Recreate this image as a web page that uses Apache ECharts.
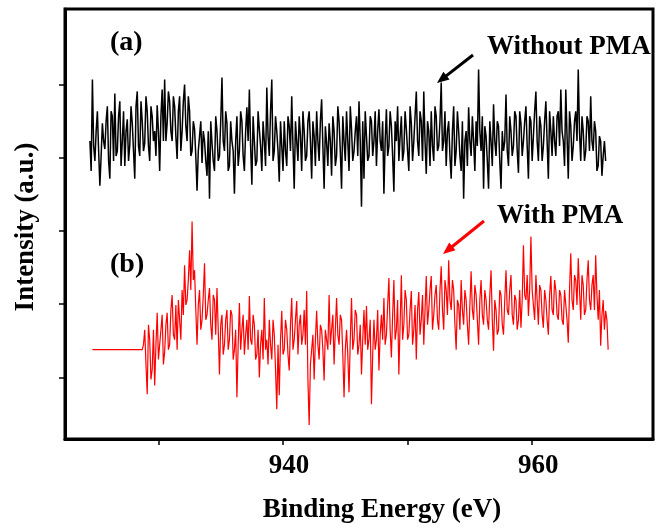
<!DOCTYPE html>
<html>
<head>
<meta charset="utf-8">
<script src="https://cdn.jsdelivr.net/npm/echarts@6/dist/echarts.min.js"></script>
<style>
html,body{margin:0;padding:0;background:#fff;}
#chart{width:655px;height:529px;}
</style>
</head>
<body>
<div id="chart"></div>
<script>
// Binding energy sampling (eV)
const energyStartA = 924.5;
const energyStartB = 924.7;
const energyStep = 0.1;

// (a) Without PMA - intensity (a.u.)
const intensityWithout = [
  300,270,362,295,280,310,330,290,255,285,318,300,292,320,335,280,262,330,325,280,
  348,285,290,325,340,275,300,330,275,310,322,280,296,335,318,290,262,335,350,295,
  285,340,320,290,298,345,330,295,280,335,325,300,310,285,336,310,270,325,352,300,
  362,300,318,350,340,310,300,345,335,305,282,330,345,290,310,340,357,315,300,345,
  330,285,290,320,312,285,250,290,305,320,278,310,300,280,265,310,242,320,298,280,
  270,325,310,280,285,320,364,300,290,330,318,270,275,320,300,290,247,300,325,275,
  290,330,320,285,270,310,334,300,352,295,256,325,300,275,280,330,312,295,270,320,
  300,275,354,305,285,330,362,280,290,325,310,290,259,320,295,270,320,290,275,325,
  315,290,345,295,252,320,300,280,325,305,270,330,310,280,285,320,330,300,262,320,
  305,275,330,300,280,320,342,295,252,315,298,275,318,300,265,325,310,275,285,335,
  320,290,252,325,300,280,330,300,270,335,312,280,290,310,325,285,340,300,234,320,
  262,330,305,280,285,325,320,285,300,330,275,310,332,300,290,320,247,300,332,285,
  295,330,315,285,249,320,300,335,280,305,325,280,290,330,312,290,270,335,318,280,
  300,325,350,300,285,330,320,280,350,300,267,320,310,275,330,295,280,335,325,290,
  295,320,359,290,300,330,275,310,320,285,262,310,335,275,290,330,310,285,270,320,
  242,300,310,275,334,300,285,325,300,270,320,295,372,310,290,325,252,315,305,280,
  252,320,300,275,337,300,285,320,315,280,252,310,290,300,347,290,275,325,310,285,
  295,330,325,290,268,330,318,285,300,320,335,295,262,325,320,280,305,330,350,300,
  280,325,315,280,295,320,340,300,262,330,310,285,325,300,285,325,330,295,352,310,
  300,275,352,305,262,330,315,280,295,320,330,300,372,310,280,325,310,280,290,325,
  320,290,345,300,290,320,310,270,275,305,300,265,285,300,280
];

// (b) With PMA - intensity (a.u.)
const intensityWith = [
  90,90,90,90,90,90,90,90,90,90,90,90,90,90,90,90,90,90,90,90,
  90,90,90,90,90,90,90,90,90,90,90,90,90,90,90,90,90,90,90,90,
  90,95,110,75,45,115,100,60,70,110,54,95,127,80,95,110,125,75,88,115,
  127,90,95,130,145,105,100,135,90,140,120,100,150,125,175,135,140,160,190,150,
  219,160,170,130,95,135,150,110,120,145,177,120,125,140,152,115,100,145,140,105,
  152,110,65,115,125,85,95,120,130,90,100,130,125,80,90,110,42,95,137,90,
  110,125,85,105,120,90,144,100,95,125,115,80,85,110,62,95,110,80,142,90,
  100,75,120,95,80,120,105,70,30,95,44,100,129,85,90,120,110,85,69,115,
  142,90,100,120,139,85,115,125,95,105,130,95,149,60,14,75,90,105,60,100,
  129,95,80,115,110,90,59,110,100,90,145,95,110,125,75,110,142,105,95,125,
  120,85,42,90,110,85,47,100,142,90,100,130,125,85,95,115,65,100,130,95,
  134,90,100,120,35,85,120,90,100,130,69,105,125,100,142,95,105,135,162,110,
  82,125,160,100,110,140,65,115,165,100,115,150,140,100,105,130,149,95,110,135,
  80,130,148,105,120,145,95,130,164,115,130,150,164,110,125,145,155,120,110,150,
  174,130,110,160,150,125,180,140,130,160,150,115,90,140,135,110,160,130,115,150,
  140,115,95,135,169,130,120,155,145,120,95,140,160,125,115,150,140,120,110,145,
  170,120,89,140,130,105,110,150,145,115,105,140,170,130,125,150,165,125,115,145,
  140,110,120,150,112,140,195,145,140,165,124,150,204,150,135,120,165,140,115,155,
  150,125,112,150,140,120,105,145,164,130,125,160,150,125,120,150,145,120,115,150,
  135,120,97,150,187,140,130,165,160,135,182,150,120,165,155,125,130,160,180,140,
  130,155,165,130,185,145,120,150,94,125,140,110,129,120,90
];

const xTickValues = [930, 940, 950, 960];
const xTickLabels = [940, 960];
const yTickValues = [62, 135.75, 209.5, 283.25, 357];

function toPairs(start, vals) {
  return vals.map((v, i) => [Math.round((start + i * energyStep) * 100) / 100, v]);
}

const FONT = '"Liberation Serif", "Times New Roman", serif';

function arrow(x1, y1, x2, y2, color) {
  const dx = x2 - x1, dy = y2 - y1;
  const len = Math.sqrt(dx * dx + dy * dy);
  const ux = dx / len, uy = dy / len;
  const L = 12, W = 5;
  const bx = x2 - ux * L, by = y2 - uy * L;
  const px = -uy, py = ux;
  return [
    { type: 'line', shape: { x1: x1, y1: y1, x2: bx + ux * 2, y2: by + uy * 2 },
      style: { stroke: color, lineWidth: 3 } },
    { type: 'polygon', shape: { points: [[x2, y2], [bx + px * W, by + py * W], [bx - px * W, by - py * W]] },
      style: { fill: color } }
  ];
}

const chart = echarts.init(document.getElementById('chart'), null, { renderer: 'canvas' });

const option = {
  animation: false,
  backgroundColor: '#fff',
  grid: { left: 65, right: 2, top: 9, bottom: 87, show: true, borderColor: '#000', borderWidth: 3, backgroundColor: 'transparent' },
  xAxis: {
    type: 'value',
    min: 922.5,
    max: 969.7,
    name: 'Binding Energy (eV)',
    nameLocation: 'middle',
    nameGap: 58,
    nameTextStyle: { fontFamily: FONT, fontWeight: 'bold', fontSize: 27, color: '#000', padding: [0, 0, 0, 46] },
    axisLine: { show: true, lineStyle: { color: '#000', width: 3 } },
    axisTick: { show: true, inside: false, length: 6, customValues: xTickValues, lineStyle: { color: '#000', width: 1.5 } },
    axisLabel: {
      show: true,
      margin: 14,
      customValues: xTickLabels,
      fontFamily: FONT, fontWeight: 'bold', fontSize: 27, color: '#000',
      padding: [0, 0, 0, 12]
    },
    splitLine: { show: false }
  },
  yAxis: {
    type: 'value',
    min: 0,
    max: 433,
    name: 'Intensity (a.u.)',
    nameLocation: 'middle',
    nameGap: 25,
    nameTextStyle: { fontFamily: FONT, fontWeight: 'bold', fontSize: 27, color: '#000', padding: [0, 6, 0, 0] },
    axisLine: { show: true, lineStyle: { color: '#000', width: 3 } },
    axisTick: { show: true, inside: false, length: 6, customValues: yTickValues, lineStyle: { color: '#000', width: 1.5 } },
    axisLabel: { show: false },
    splitLine: { show: false }
  },
  series: [
    {
      name: 'Without PMA', type: 'line', data: toPairs(energyStartA, intensityWithout),
      showSymbol: false, symbol: 'none', lineStyle: { color: '#000', width: 1.5 }, z: 3
    },
    {
      name: 'With PMA', type: 'line', data: toPairs(energyStartB, intensityWith),
      showSymbol: false, symbol: 'none', lineStyle: { color: '#ff0000', width: 1.2 }, z: 3
    }
  ],
  graphic: [
    { type: 'text', left: 110, top: 29, style: { text: '(a)', font: 'bold 28px ' + FONT, fill: '#000' } },
    { type: 'text', left: 110, top: 251, style: { text: '(b)', font: 'bold 28px ' + FONT, fill: '#000' } },
    { type: 'text', left: 487, top: 34, style: { text: 'Without PMA', font: 'bold 27px ' + FONT, fill: '#000' } },
    { type: 'text', left: 497, top: 203, style: { text: 'With PMA', font: 'bold 27px ' + FONT, fill: '#000' } }
  ].concat(arrow(473, 55, 437, 83, '#000')).concat(arrow(484, 221, 443, 254, '#ff0000'))
};

chart.setOption(option);
</script>
</body>
</html>
